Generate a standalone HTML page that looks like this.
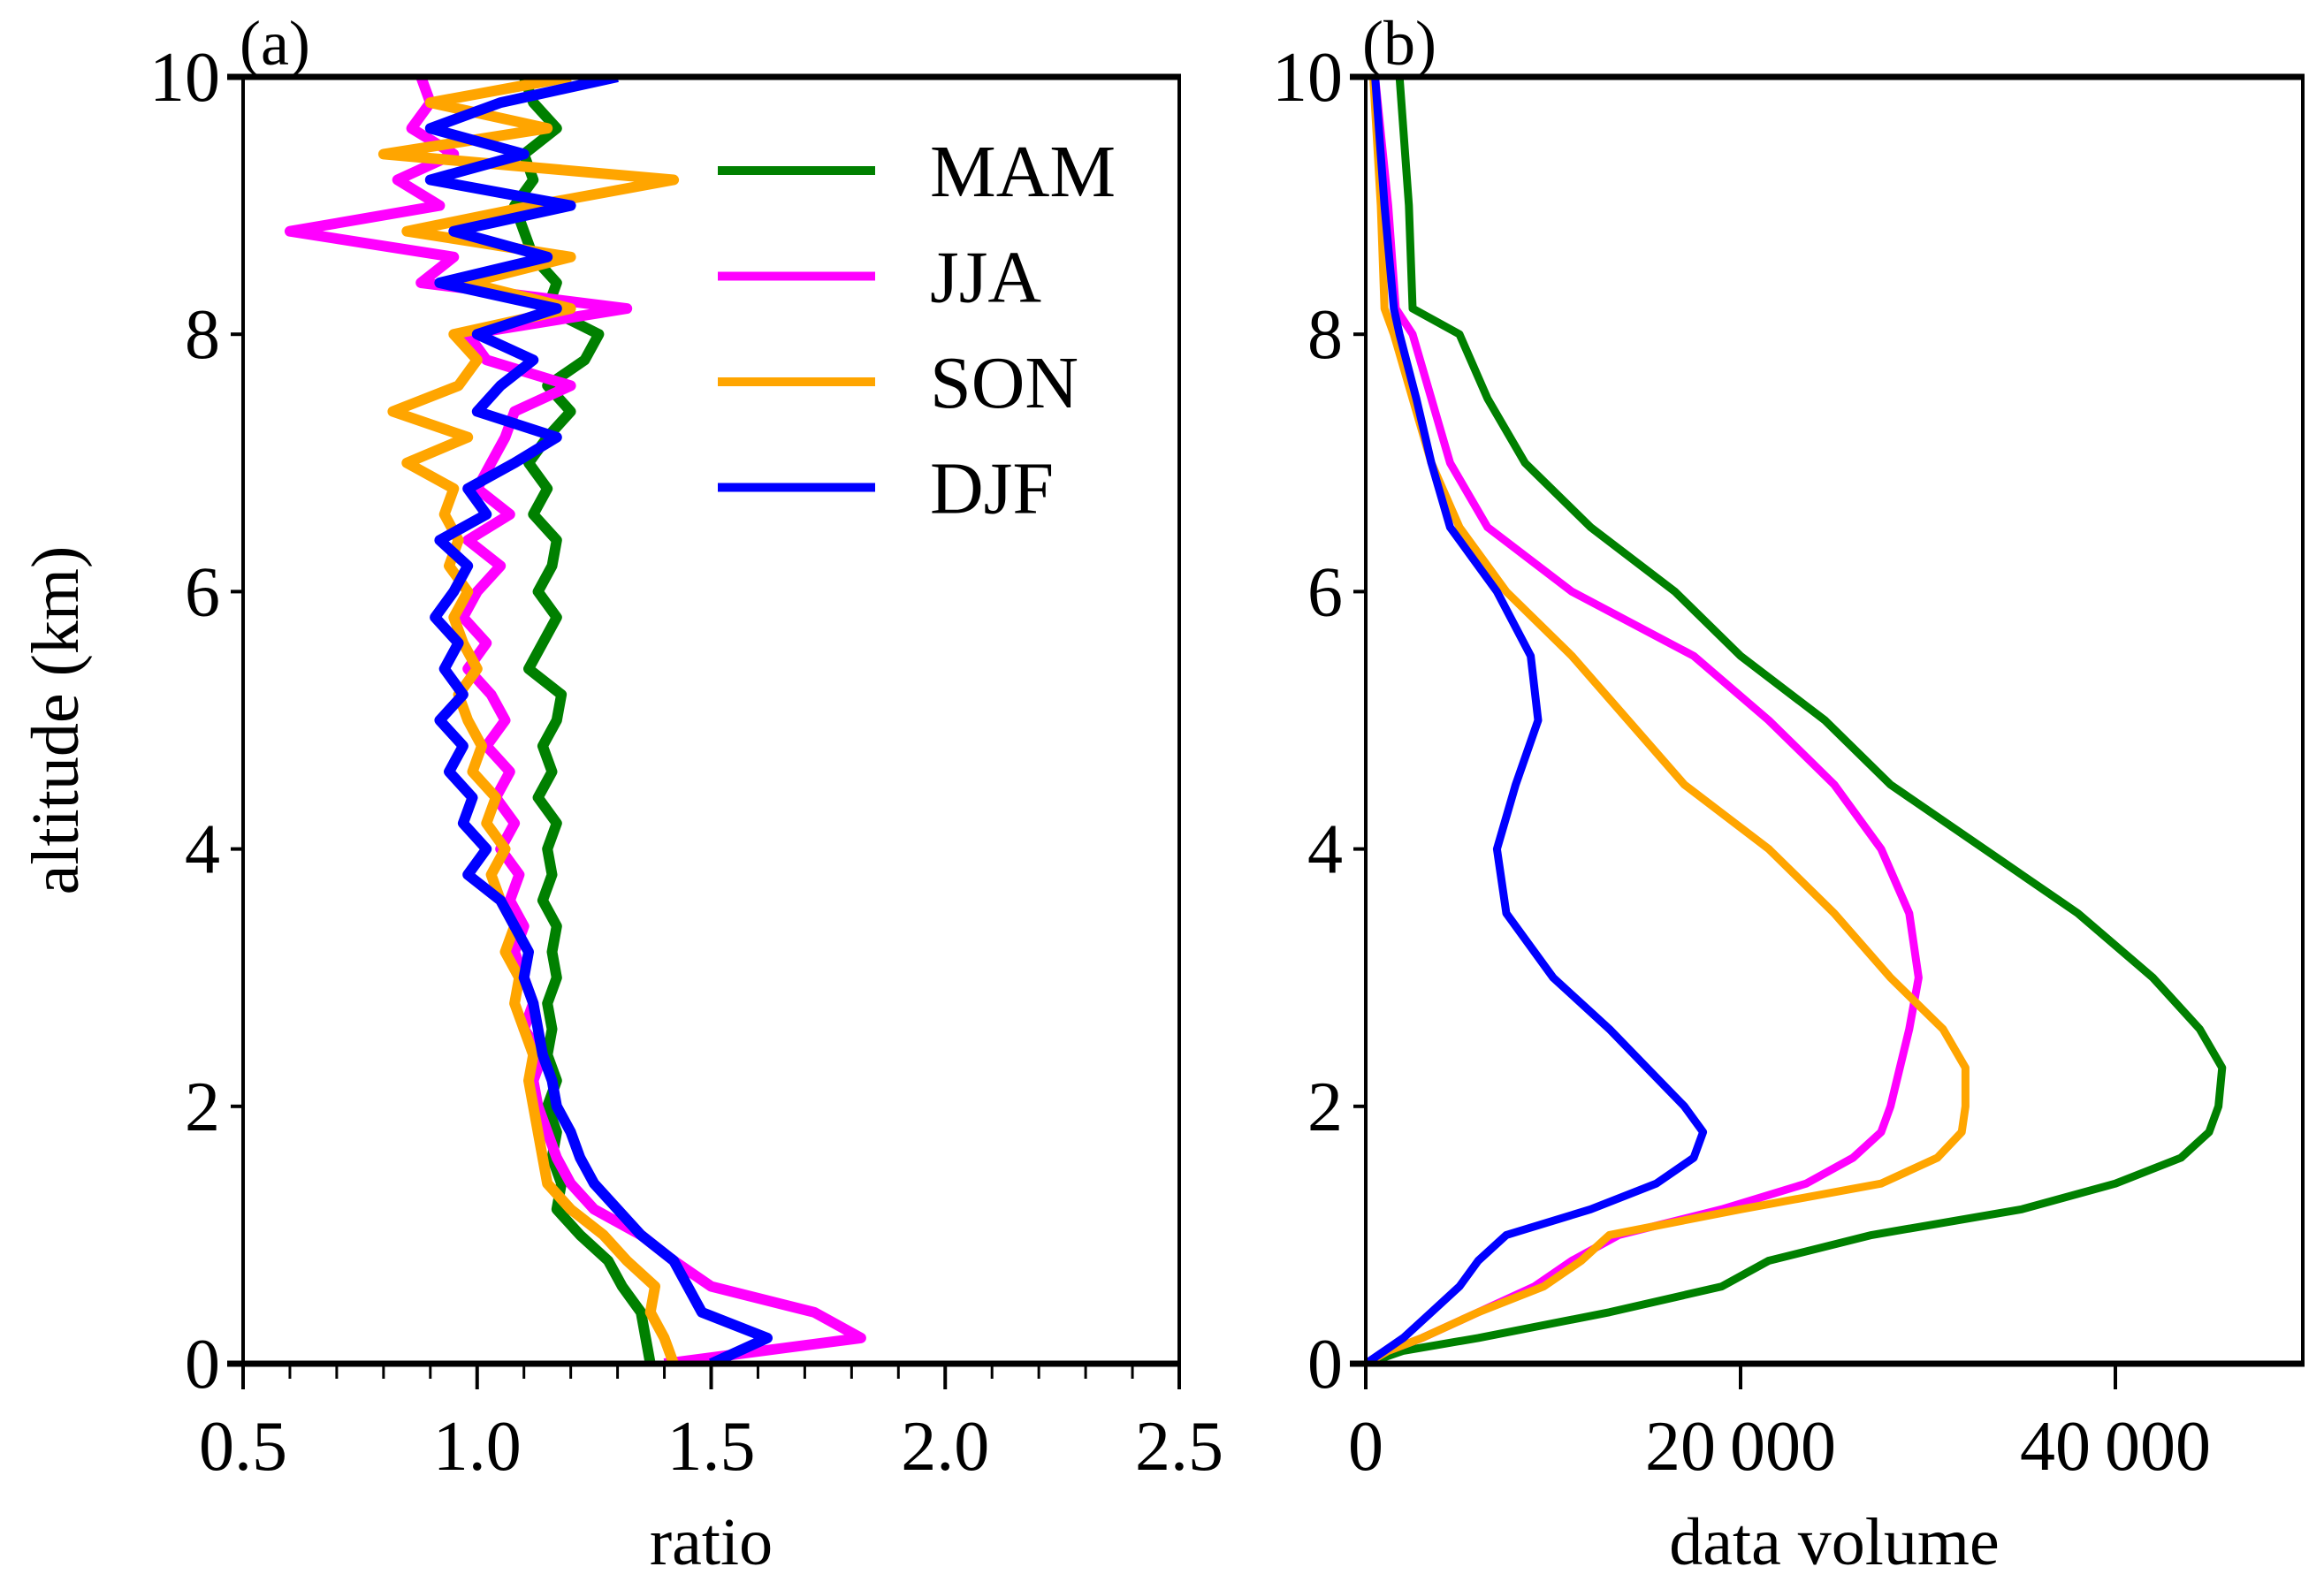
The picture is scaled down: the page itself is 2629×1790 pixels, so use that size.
<!DOCTYPE html>
<html><head><meta charset="utf-8"><style>
html,body{margin:0;padding:0;background:#fff}
svg{display:block}
text{font-family:"Liberation Serif",serif;fill:#000}
</style></head><body>
<svg id="chart" width="2629" height="1790" viewBox="0 0 2629 1790">
<defs><clipPath id="ca"><rect x="275" y="87" width="1059" height="1456"/></clipPath><clipPath id="cb"><rect x="1545" y="87" width="1060" height="1456"/></clipPath></defs>
<g id="pa"></g>
<g id="pb"></g>
</svg>
<script>
// Panel (a) data: altitude 0..10 km by 0.2
const altA = [0,0.2,0.4,0.6,0.8,1.0,1.2,1.4,1.6,1.8,2.0,2.2,2.4,2.6,2.8,3.0,3.2,3.4,3.6,3.8,4.0,4.2,4.4,4.6,4.8,5.0,5.2,5.4,5.6,5.8,6.0,6.2,6.4,6.6,6.8,7.0,7.2,7.4,7.6,7.8,8.0,8.2,8.4,8.6,8.8,9.0,9.2,9.4,9.6,9.8,10.0];
const ratioMAM = [1.37,1.36,1.35,1.31,1.28,1.22,1.17,1.18,1.16,1.17,1.15,1.17,1.15,1.16,1.15,1.17,1.16,1.17,1.14,1.16,1.15,1.17,1.13,1.16,1.14,1.17,1.18,1.11,1.14,1.17,1.13,1.16,1.17,1.12,1.15,1.11,1.15,1.2,1.15,1.23,1.26,1.15,1.17,1.12,1.1,1.08,1.12,1.1,1.17,1.12,1.1];
const ratioJJA = [1.4,1.82,1.72,1.5,1.42,1.35,1.25,1.2,1.17,1.15,1.13,1.12,1.14,1.1,1.12,1.1,1.08,1.1,1.07,1.09,1.05,1.08,1.04,1.07,1.02,1.06,1.03,0.98,1.02,0.97,1.0,1.05,0.98,1.07,1.0,1.03,1.06,1.08,1.2,1.02,0.98,1.32,0.88,0.95,0.6,0.92,0.83,0.95,0.86,0.9,0.88];
const ratioSON = [1.42,1.4,1.37,1.38,1.32,1.27,1.2,1.15,1.14,1.13,1.12,1.11,1.12,1.1,1.08,1.09,1.06,1.08,1.05,1.03,1.06,1.02,1.04,0.99,1.01,0.98,0.96,1.0,0.97,0.95,0.98,0.94,0.96,0.93,0.95,0.85,0.98,0.82,0.96,1.0,0.95,1.2,0.98,1.2,0.85,1.12,1.42,0.8,1.15,0.9,1.2];
const ratioDJF = [1.5,1.62,1.48,1.45,1.42,1.35,1.3,1.25,1.22,1.2,1.17,1.16,1.14,1.13,1.12,1.1,1.11,1.08,1.05,0.98,1.02,0.97,0.99,0.94,0.97,0.92,0.97,0.93,0.96,0.91,0.95,0.98,0.92,1.02,0.98,1.08,1.17,1.0,1.05,1.12,1.0,1.17,0.92,1.15,0.95,1.2,0.9,1.1,0.9,1.05,1.3];
// Panel (b) data
const altB = [0,0.1,0.2,0.4,0.6,0.8,1.0,1.2,1.4,1.6,1.8,2.0,2.3,2.6,3.0,3.5,4.0,4.5,5.0,5.5,6.0,6.5,7.0,7.5,8.0,8.2,9,10];
const volMAM = [0,2000,6000,13000,19000,21500,27000,35000,40000,43500,45000,45500,45700,44500,42000,38000,33000,28000,24500,20000,16500,12000,8500,6500,5000,2500,2300,1800];
const volJJA = [0,1200,3000,6000,9000,11000,13500,19000,23500,26000,27500,28000,28500,29000,29500,29000,27500,25000,21500,17500,11000,6500,4500,3500,2500,1600,1200,500];
const volSON = [0,1200,3000,6000,9500,11500,13000,20000,27500,30500,31800,32000,32000,30800,28000,25000,21500,17000,14000,11000,7500,5000,3500,2500,1500,1000,800,400];
const volDJF = [0,1000,2000,3500,5000,6000,7500,12000,15500,17500,18000,17000,15000,13000,10000,7500,7000,8000,9200,8800,7000,4500,3500,2700,1800,1500,1000,500];
const ticksA = ["0.5","1.0","1.5","2.0","2.5"];
const ticksAvals = [0.5,1.0,1.5,2.0,2.5];
const ticksB = ["0","20\u2009000","40\u2009000"];
const ticksBvals = [0,20000,40000];
const ticksY = [0,2,4,6,8,10];
const seasons = ["MAM","JJA","SON","DJF"];
const colors = ["#008000","#ff00ff","#ffa500","#0000ff"];

const NS="http://www.w3.org/2000/svg";
function mk(p,tag,at){const e=document.createElementNS(NS,tag);for(const k in at)e.setAttribute(k,at[k]);p.appendChild(e);return e;}
const plotTop=87,plotBot=1543;
const yS=a=>plotBot-(plotBot-plotTop)*a/10;
const aL=275,aR=1334,bL=1545,bR=2605;
const xA=v=>aL+(aR-aL)*(v-0.5)/2.0;
const xB=v=>bL+(bR-bL)*v/50000;

function axes(g,L,R,xt,xv,xf,xlabel,plabel,minor){
  for(const t of ticksY){
    const l=mk(g,'line',{x1:L-14,x2:L,y1:yS(t),y2:yS(t),stroke:'#000','stroke-width':4});
    
    
    const tx=mk(g,'text',{x:L-26,y:yS(t)+27,'text-anchor':'end','font-size':80});
    tx.textContent=t;
    
    
  }
  if(minor){for(let k=6;k<25;k++){if(k%5===0)continue;const v=k/10;
    const l=mk(g,'line',{x1:xf(v),x2:xf(v),y1:plotBot,y2:plotBot+17,stroke:'#000','stroke-width':3});
    
    }}
  xv.forEach((v,i)=>{
    const l=mk(g,'line',{x1:xf(v),x2:xf(v),y1:plotBot,y2:plotBot+29,stroke:'#000','stroke-width':4});
    
    
    const tx=mk(g,'text',{x:xf(v),y:plotBot+120,'text-anchor':'middle','font-size':80});
    tx.textContent=xt[i];
    
    
  });
  const xl=mk(g,'text',{x:(L+R)/2,y:1770,'text-anchor':'middle','font-size':76});
  xl.textContent=xlabel;
  
  
  const pl=mk(g,'text',{x:L-4,y:plotTop-14,'font-size':72});
  pl.textContent=plabel;
  
  
}
function frame(g,L,R){
  const r=mk(g,'rect',{x:L,y:plotTop,width:R-L,height:plotBot-plotTop,fill:'none',stroke:'#000','stroke-width':4});
  
  
  const b=mk(g,'line',{x1:L-18,x2:R+2,y1:plotBot,y2:plotBot,stroke:'#000','stroke-width':7});
  
  
  const t=mk(g,'line',{x1:L-18,x2:R+2,y1:plotTop,y2:plotTop,stroke:'#000','stroke-width':7});
  
  
}
function series(g,alts,vals,xf,col,w,name){
  const pts=vals.map((v,i)=>xf(v).toFixed(1)+','+yS(alts[i]).toFixed(1)).join(' ');
  const p=mk(g,'polyline',{points:pts,fill:'none',stroke:col,'stroke-width':w,'stroke-linejoin':'round','stroke-linecap':'butt'});
  
  
}
const pa=document.getElementById('pa'), pb=document.getElementById('pb');
const ga=mk(pa,'g',{'clip-path':'url(#ca)'});


const gb=mk(pb,'g',{'clip-path':'url(#cb)'});


[ratioMAM,ratioJJA,ratioSON,ratioDJF].forEach((d,i)=>series(ga,altA,d,xA,colors[i],12,'ratio-line-'+seasons[i].toLowerCase()));
[volMAM,volJJA,volSON,volDJF].forEach((d,i)=>series(gb,altB,d,xB,colors[i],9,'volume-line-'+seasons[i].toLowerCase()));
frame(pa,aL,aR); frame(pb,bL,bR);
axes(pa,aL,aR,ticksA,ticksAvals,xA,'ratio','(a)',true);
axes(pb,bL,bR,ticksB,ticksBvals,xB,'data volume','(b)',false);
const yl=mk(pa,'text',{x:0,y:0,'text-anchor':'middle','font-size':76,transform:'translate(88,815) rotate(-90)'});
yl.textContent='altitude (km)';


const lg=mk(pa,'g',{});


seasons.forEach((s,i)=>{
  const y=193+i*119.5;
  const l=mk(lg,'line',{x1:812,x2:990,y1:y,y2:y,stroke:colors[i],'stroke-width':10});
  
  
  const t=mk(lg,'text',{x:1052,y:y+29,'font-size':84});
  t.textContent=s;
  
  
});
</script>
</body></html>
